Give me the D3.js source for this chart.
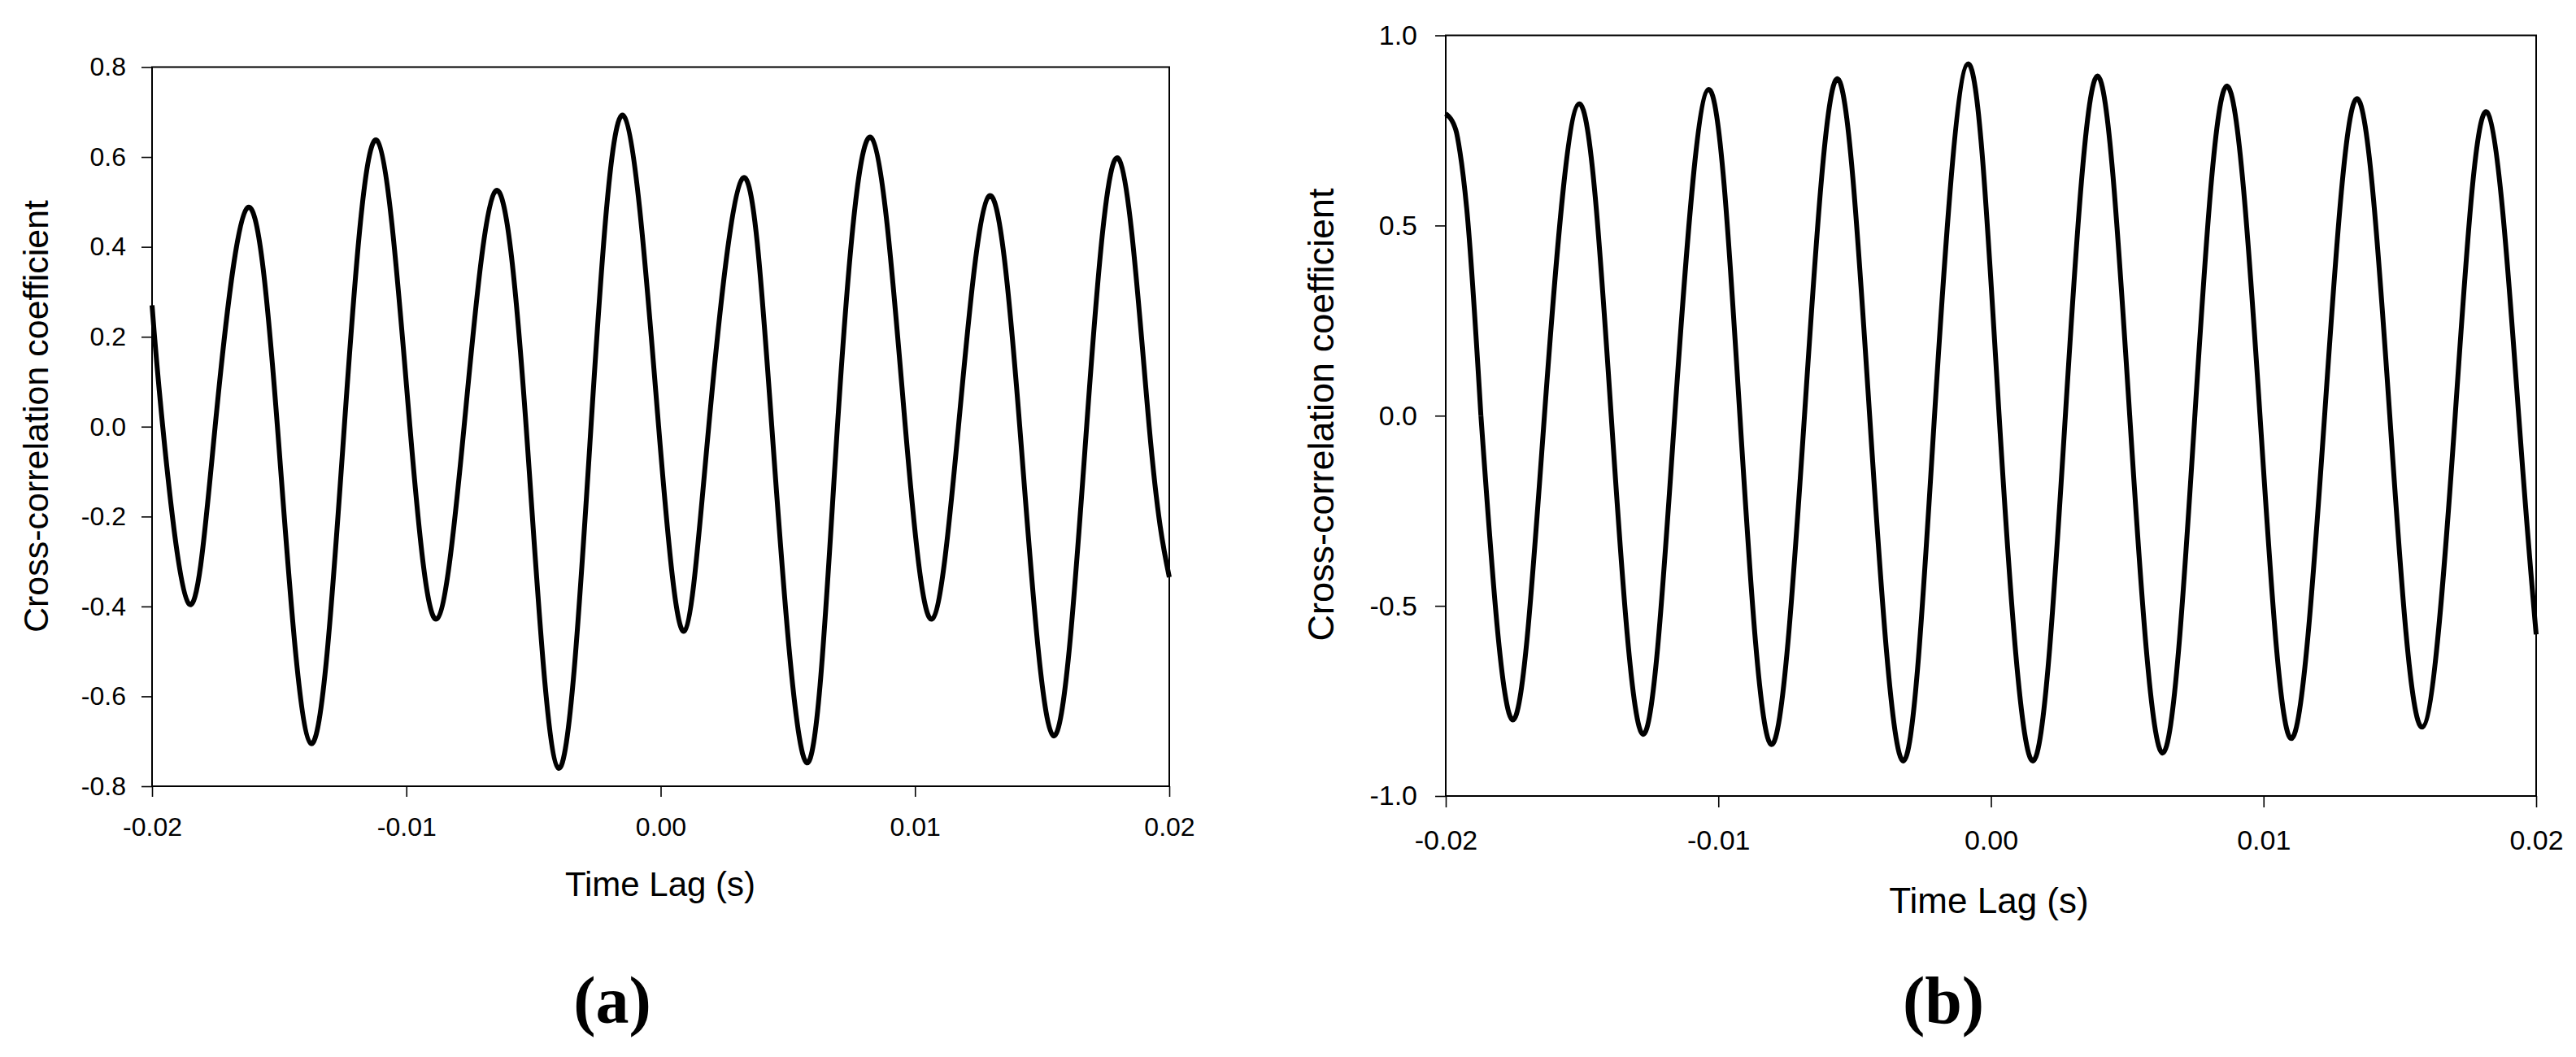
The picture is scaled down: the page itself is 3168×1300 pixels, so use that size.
<!DOCTYPE html>
<html>
<head>
<meta charset="utf-8">
<script src="https://cdn.jsdelivr.net/npm/d3@7"></script>
<style>
  html, body { margin: 0; padding: 0; background: #fff; }
  svg { display: block; }
  text { font-family: "Liberation Sans", Arial, sans-serif; fill: #000; }
  .caption { font-family: "Liberation Serif", "Times New Roman", serif; font-weight: bold; }
</style>
</head>
<body>
<svg id="chart" width="3168" height="1300"></svg>
<script>
// panel (a): lag (s) and cross-correlation (extrema + zero crossings)
const lagA = [-0.02, -0.01958, -0.01854, -0.01752, -0.01625, -0.01507, -0.01375, -0.01244,
  -0.01116, -0.00986, -0.00881, -0.00773, -0.00650, -0.00529, -0.00402, -0.00274,
  -0.00146, -0.00008, 0.00093, 0.00189, 0.00323, 0.00437, 0.00575, 0.00695,
  0.00828, 0.00962, 0.01067, 0.01171, 0.01291, 0.01412, 0.01545, 0.01675,
  0.01801, 0.01921, 0.02]
const ccA = [0.27, 0, -0.395, 0, 0.487, 0, -0.705, 0,
  0.637, 0, -0.428, 0, 0.524, 0, -0.760, 0,
  0.692, 0, -0.455, 0, 0.553, 0, -0.748, 0,
  0.643, 0, -0.428, 0, 0.513, 0, -0.688, 0,
  0.596, 0, -0.335]

// panel (b)
const lagB = [-0.02, -0.01963, -0.01948, -0.01923, -0.01871, -0.01754, -0.01638, -0.01510, -0.01393,
  -0.01276, -0.01160, -0.01035, -0.00921, -0.00805, -0.00684, -0.00564, -0.00445,
  -0.00322, -0.00207, -0.00083, 0.00030, 0.00154, 0.00273, 0.00391, 0.00509,
  0.00630, 0.00748, 0.00866, 0.00987, 0.01102, 0.01224, 0.01343, 0.01463,
  0.01581, 0.01703, 0.01820, 0.01936, 0.02]
const ccB = [0.794, 0.751, 0.694, 0.544, 0, -0.80, 0, 0.82, 0,
  -0.838, 0, 0.858, 0, -0.865, 0, 0.886, 0,
  -0.908, 0, 0.925, 0, -0.908, 0, 0.893, 0,
  -0.887, 0, 0.867, 0, -0.849, 0, 0.834, 0,
  -0.819, 0, 0.798, 0, -0.575]

const xTicks = [-0.02, -0.01, 0, 0.01, 0.02]
const xTickLabels = ['-0.02', '-0.01', '0.00', '0.01', '0.02']
const yTicksA = [-0.8, -0.6, -0.4, -0.2, 0, 0.2, 0.4, 0.6, 0.8]
const yTickLabelsA = ['-0.8', '-0.6', '-0.4', '-0.2', '0.0', '0.2', '0.4', '0.6', '0.8']
const yTicksB = [-1, -0.5, 0, 0.5, 1]
const yTickLabelsB = ['-1.0', '-0.5', '0.0', '0.5', '1.0']

const xTitle = 'Time Lag (s)'
const yTitle = 'Cross-correlation coefficient'

const svg = d3.select('#chart')

function drawPanel(p) {
  const x = d3.scaleLinear().domain([-0.02, 0.02]).range([p.left, p.right])
  const y = d3.scaleLinear().domain(p.yDomain).range([p.bottom, p.top])
  const g = svg.append('g')

  const yAxis = d3.axisLeft(y)
    .tickValues(p.yTicks)
    .tickFormat((d, i) => p.yLabels[i])
    .tickSize(13)
    .tickSizeOuter(0)
    .tickPadding(p.yPad)
  const xAxis = d3.axisBottom(x)
    .tickValues(xTicks)
    .tickFormat((d, i) => xTickLabels[i])
    .tickSize(p.xTick)
    .tickSizeOuter(0)
    .tickPadding(p.xPad)

  const ya = g.append('g').attr('transform', `translate(${p.left},0)`).call(yAxis)
  const xa = g.append('g').attr('transform', `translate(0,${p.bottom})`).call(xAxis)
  for (const a of [ya, xa]) {
    a.select('.domain').remove()
    a.selectAll('line').attr('stroke', '#000').attr('stroke-width', 1.6)
    a.selectAll('text')
      .attr('font-family', '"Liberation Sans", Arial, sans-serif')
      .attr('font-size', p.tickFont)
      .attr('fill', '#000')
  }

  // frame
  g.append('rect')
    .attr('x', p.left).attr('y', p.top)
    .attr('width', p.right - p.left).attr('height', p.bottom - p.top)
    .attr('fill', 'none').attr('stroke', '#000').attr('stroke-width', 2)

  const pts = p.lag.map((t, i) => [t, p.cc[i]])
  // the first stretch (up to the first zero crossing) is drawn monotone so the
  // rounded start doesn't get a natural-spline kink; the rest is a natural spline
  const head = pts.slice(0, p.head + 1)
  const tail = pts.slice(p.head)

  const lineHead = d3.line().x(d => x(d[0])).y(d => y(d[1])).curve(d3.curveMonotoneX)
  const lineTail = d3.line().x(d => x(d[0])).y(d => y(d[1])).curve(d3.curveNatural)

  const segs = p.head > 0 ? [[head, lineHead], [tail, lineTail]] : [[pts, lineTail]]
  for (const [data, ln] of segs) {
    g.append('path')
      .datum(data)
      .attr('d', ln)
      .attr('fill', 'none')
      .attr('stroke', '#000')
      .attr('stroke-width', 6)
      .attr('stroke-linejoin', 'round')
      .attr('stroke-linecap', 'butt')
  }

  g.append('text')
    .attr('x', p.xTitleX).attr('y', p.xTitleY)
    .attr('text-anchor', 'middle')
    .attr('font-size', p.titleFont)
    .text(xTitle)

  g.append('text')
    .attr('transform', `translate(${p.yTitleX},${p.yTitleY}) rotate(-90)`)
    .attr('text-anchor', 'middle')
    .attr('font-size', p.yTitleFont)
    .text(yTitle)

  g.append('text')
    .attr('class', 'caption')
    .attr('x', p.capX).attr('y', 1258)
    .attr('text-anchor', 'middle')
    .attr('font-size', 82)
    .text(p.caption)
}

drawPanel({
  lag: lagA, cc: ccA, head: 0, yDomain: [-0.8, 0.8], yTicks: yTicksA, yLabels: yTickLabelsA,
  left: 187, right: 1438, top: 82.5, bottom: 967,
  yPad: 19, xTick: 13, xPad: 25, tickFont: 32, titleFont: 42, yTitleFont: 43,
  xTitleX: 812, xTitleY: 1102, yTitleX: 59, yTitleY: 512,
  capX: 753, caption: '(a)'
})

drawPanel({
  lag: lagB, cc: ccB, head: 4, yDomain: [-1, 1], yTicks: yTicksB, yLabels: yTickLabelsB,
  left: 1778, right: 3119, top: 43.5, bottom: 979,
  yPad: 22, xTick: 14, xPad: 28, tickFont: 34, titleFont: 44, yTitleFont: 45,
  xTitleX: 2446, xTitleY: 1123, yTitleX: 1640, yTitleY: 510,
  capX: 2390, caption: '(b)'
})
</script>
</body>
</html>
